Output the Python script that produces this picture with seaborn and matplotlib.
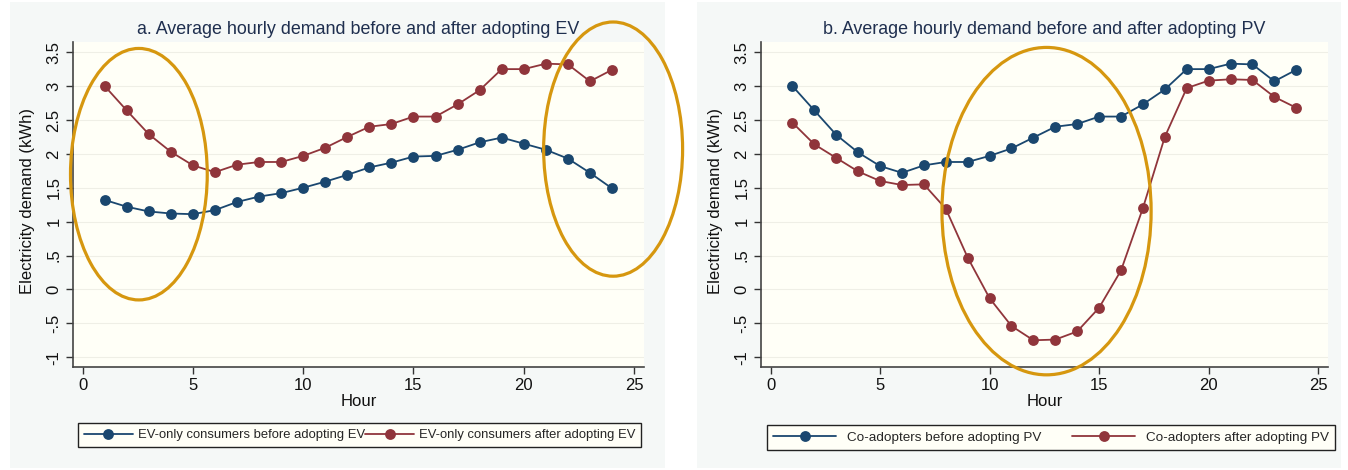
import numpy as np
import pandas as pd
import matplotlib
matplotlib.use("Agg")
import matplotlib.pyplot as plt
import seaborn as sns
from matplotlib.patches import Ellipse, Rectangle
from matplotlib.lines import Line2D

# datos
hours = [1, 2, 3, 4, 5, 6, 7, 8, 9, 10, 11, 12, 13, 14, 15, 16, 17, 18, 19, 20, 21, 22, 23, 24]
ev_before = [1.32, 1.22, 1.15, 1.12, 1.11, 1.17, 1.29, 1.37, 1.42, 1.50, 1.59, 1.69,
             1.80, 1.87, 1.96, 1.97, 2.06, 2.17, 2.24, 2.15, 2.06, 1.93, 1.72, 1.49]
ev_after = [3.00, 2.64, 2.29, 2.03, 1.83, 1.73, 1.84, 1.88, 1.88, 1.97, 2.09, 2.25,
            2.40, 2.44, 2.55, 2.55, 2.73, 2.94, 3.25, 3.25, 3.33, 3.32, 3.07, 3.24]
co_before = [3.00, 2.64, 2.28, 2.02, 1.82, 1.72, 1.83, 1.88, 1.88, 1.97, 2.08, 2.24,
             2.40, 2.44, 2.55, 2.55, 2.73, 2.95, 3.25, 3.25, 3.33, 3.32, 3.07, 3.24]
co_after = [2.46, 2.14, 1.94, 1.74, 1.60, 1.54, 1.55, 1.19, 0.47, -0.13, -0.54, -0.75,
            -0.74, -0.62, -0.27, 0.28, 1.20, 2.25, 2.97, 3.08, 3.10, 3.09, 2.84, 2.68]

titles = ["a. Average hourly demand before and after adopting EV",
          "b. Average hourly demand before and after adopting PV"]
labels_a = ["EV-only consumers before adopting EV", "EV-only consumers after adopting EV"]
labels_b = ["Co-adopters before adopting PV", "Co-adopters after adopting PV"]
y_ticks = [-1, -0.5, 0, 0.5, 1, 1.5, 2, 2.5, 3, 3.5]
y_ticklabels = ["-1", "-.5", "0", ".5", "1", "1.5", "2", "2.5", "3", "3.5"]
x_ticks = [0, 5, 10, 15, 20, 25]

BLUE = "#1a476f"
RED = "#90353b"
ORANGE = "#d6970f"
CREAM = "#fffff7"
PANEL = "#f5f8f7"

sns.set_style("white")
plt.rcParams['font.family'] = ['Liberation Sans', 'DejaVu Sans']

W, H = 1348, 470
fig = plt.figure(figsize=(W / 100, H / 100), dpi=100, facecolor="white")

# fondos de cada panel (detras de los ejes)
for x0, x1 in [(10, 665), (697, 1341)]:
    fig.patches.append(Rectangle((x0 / W, 2 / H), (x1 - x0) / W, 466 / H,
                                 transform=fig.transFigure, facecolor=PANEL,
                                 edgecolor="none", zorder=-5))

ax1 = fig.add_axes([72.7 / W, (H - 366.7) / H, (644 - 72.7) / W, (366.7 - 42) / H])
ax2 = fig.add_axes([760.7 / W, (H - 366.7) / H, (1328 - 760.7) / W, (366.7 - 42) / H])

df_a = pd.DataFrame({"Hour": hours * 2, "kWh": ev_before + ev_after,
                     "grupo": [labels_a[0]] * 24 + [labels_a[1]] * 24})
df_b = pd.DataFrame({"Hour": hours * 2, "kWh": co_before + co_after,
                     "grupo": [labels_b[0]] * 24 + [labels_b[1]] * 24})

for ax, df, labs, tit in [(ax1, df_a, labels_a, titles[0]), (ax2, df_b, labels_b, titles[1])]:
    ax.set_facecolor(CREAM)
    sns.lineplot(data=df, x="Hour", y="kWh", hue="grupo", palette=[BLUE, RED],
                 hue_order=labs, marker="o", markersize=7.8, markeredgewidth=0,
                 linewidth=1.3, ax=ax, legend=False, zorder=3)
    ax.set_xlim(-0.45, 25.45)
    ax.set_ylim(-1.14, 3.65)
    ax.set_xticks(x_ticks)
    ax.set_yticks(y_ticks)
    ax.set_yticklabels(y_ticklabels, rotation=90, va="center")
    ax.tick_params(axis="both", direction="out", length=5, width=1, color="#333333",
                   labelsize=12, labelcolor="#111111", pad=3, left=True, bottom=True)
    for s in ["top", "right"]:
        ax.spines[s].set_visible(False)
    for s in ["left", "bottom"]:
        ax.spines[s].set_color("#444444")
        ax.spines[s].set_linewidth(1.2)
    ax.grid(axis="y", color="#efefe6", linewidth=0.8)
    ax.grid(axis="x", visible=False)
    ax.set_axisbelow(True)
    ax.set_xlabel("Hour", fontsize=12, color="#111111", labelpad=1)
    ax.set_ylabel("Electricity demand (kWh)", fontsize=12, color="#111111")
    ax.yaxis.set_label_coords(-0.066, 0.51)
    ax.set_title(tit, fontsize=12.9, color="#1f2f4f", pad=6)

    handles = [Line2D([], [], color=BLUE, marker="o", markersize=7.8, markeredgewidth=0, lw=1.3),
               Line2D([], [], color=RED, marker="o", markersize=7.8, markeredgewidth=0, lw=1.3)]
    if ax is ax1:
        leg = fig.legend(handles, labs, ncol=2, loc="center",
                         bbox_to_anchor=(359.5 / W, (H - 435) / H),
                         bbox_transform=fig.transFigure, fontsize=9.4, frameon=True,
                         fancybox=False, edgecolor="#222222", facecolor=CREAM, framealpha=1,
                         handlelength=3.8, handletextpad=0.35, columnspacing=0.0,
                         borderpad=0.45, borderaxespad=0, numpoints=1)
    else:
        box = (767, 420, 568, 30)
        leg = fig.legend(handles, labs, ncol=2, mode="expand", loc="lower left",
                         bbox_to_anchor=(box[0] / W, (H - box[1] - box[3]) / H, box[2] / W, box[3] / H),
                         bbox_transform=fig.transFigure, fontsize=9.7, frameon=True,
                         fancybox=False, edgecolor="#222222", facecolor=CREAM, framealpha=1,
                         handlelength=4.7, handletextpad=0.8, columnspacing=2.0,
                         borderpad=0.45, borderaxespad=0, numpoints=1)
    leg.get_frame().set_linewidth(1.0)

# elipses que resaltan las horas
for ax, (cx, cy, w, h) in [(ax1, (2.55, 1.70, 6.2, 3.71)),
                           (ax1, (24.05, 2.07, 6.3, 3.75)),
                           (ax2, (12.6, 1.155, 9.55, 4.83))]:
    ax.add_patch(Ellipse((cx, cy), w, h, fill=False, edgecolor=ORANGE, lw=2.3,
                         clip_on=False, zorder=5))

fig.savefig("out.png", dpi=100, facecolor="white")
